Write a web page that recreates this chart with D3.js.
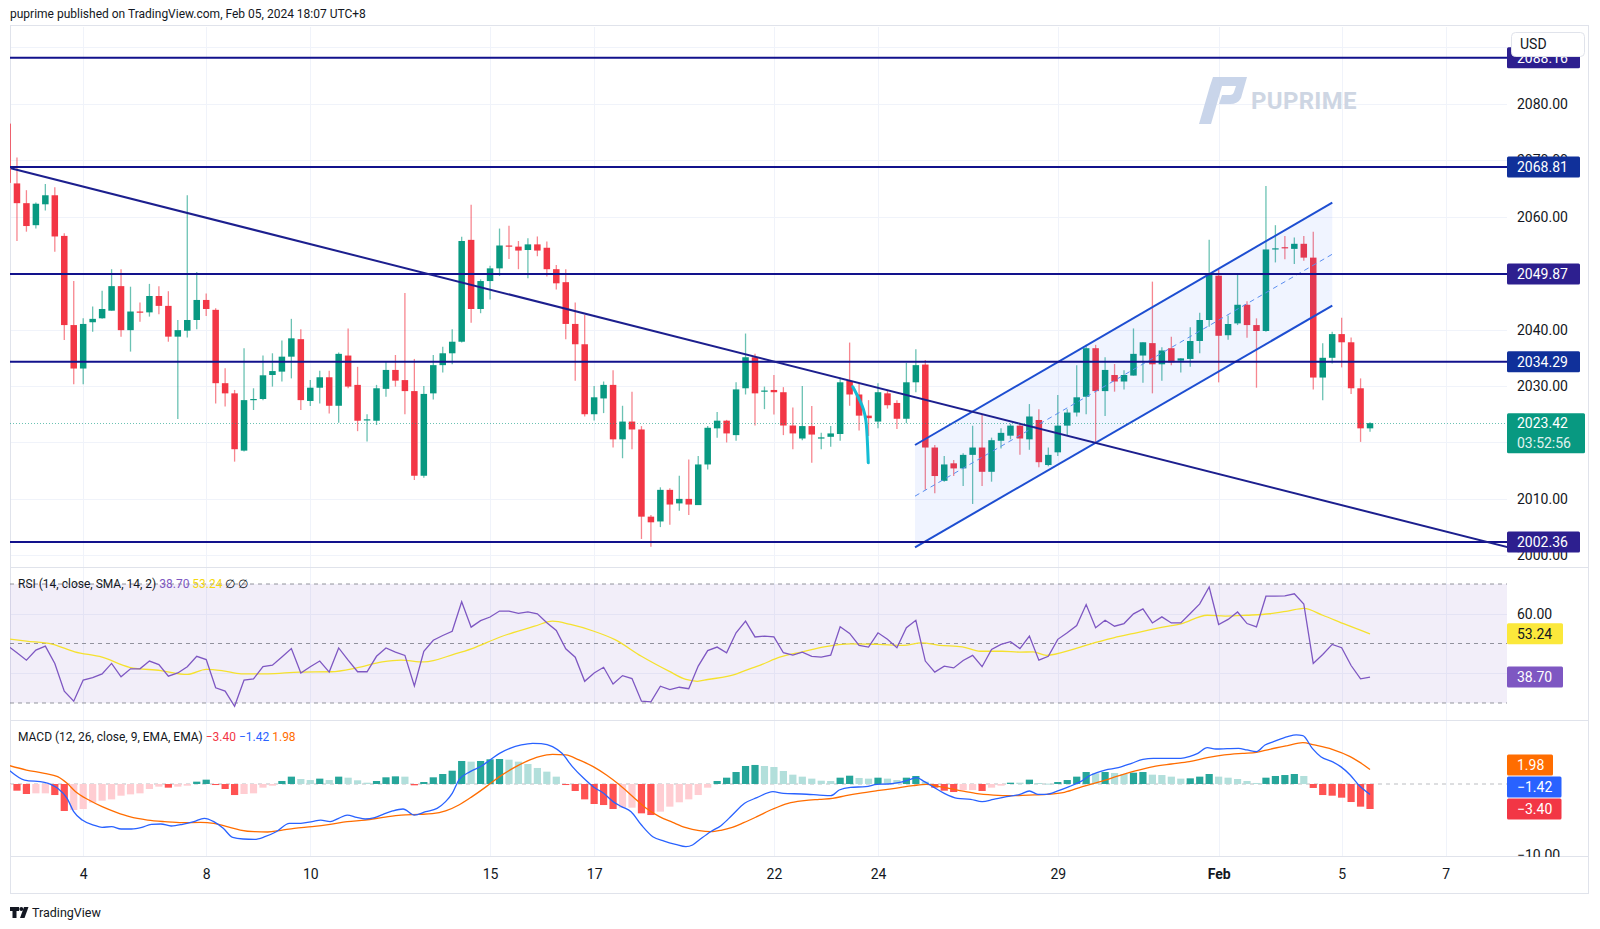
<!DOCTYPE html>
<html><head><meta charset="utf-8">
<script src="https://cdn.jsdelivr.net/npm/d3@7"></script>
<style>body{margin:0;background:#fff;}svg{display:block;font-family:Roboto,"Noto Sans",sans-serif;}</style>
</head><body><svg id="c" width="1600" height="929"></svg>
<script>
// ---------- DATA ----------
const opens = [2076.5,2065.9,2062.4,2058.5,2062.2,2063.8,2056.6,2040.8,2033.1,2041.3,2042.0,2043.35,2047.7,2039.9,2043.2,2043.05,2045.95,2044.2,2038.75,2039.8,2041.7,2045.25,2043.5,2030.5,2028.7,2018.55,2027.6,2027.7,2031.95,2032.55,2035.2,2038.3,2027.35,2029.7,2031.55,2026.5,2035.4,2030.2,2023.95,2023.85,2029.5,2032.85,2031.05,2029.1,2014.1,2028.7,2033.7,2035.8,2037.85,2055.9,2043.65,2048.6,2050.85,2054.9,2054.7,2054.1,2055.1,2054.5,2050.7,2048.4,2041.0,2037.4,2025.0,2027.8,2030.2,2020.55,2023.7,2022.3,2006.85,2006.0,2011.6,2009.2,2010.0,2008.9,2016.1,2022.5,2023.86,2021.3,2029.6,2035.1,2029.05,2029.3,2028.9,2023.0,2020.7,2022.9,2020.85,2021.0,2021.5,2030.9,2028.5,2024.75,2023.7,2028.7,2027.0,2024.2,2030.66,2033.8,2019.1,2013.2,2016.3,2015.4,2017.8,2019.1,2014.8,2020.3,2021.2,2022.98,2020.55,2023.98,2016.0,2018.25,2022.98,2025.3,2028.1,2036.7,2029.1,2031.95,2030.8,2031.85,2035.4,2037.6,2033.85,2036.7,2034.5,2034.8,2037.98,2041.7,2049.55,2039.0,2041.1,2044.4,2040.8,2039.75,2054.3,2054.6,2054.3,2055.2,2052.75,2031.5,2035.0,2039.2,2037.75,2029.6,2022.5];
const highs = [2077.0,2070.5,2064.7,2062.5,2065.8,2065.2,2057.05,2048.6,2042.0,2044.1,2046.9,2050.7,2050.7,2047.6,2044.8,2048.1,2047.7,2046.8,2041.7,2063.8,2050.2,2046.4,2043.8,2033.15,2029.3,2036.7,2029.6,2035.4,2035.8,2038.05,2041.9,2040.05,2031.05,2032.7,2032.7,2035.95,2040.2,2033.4,2025.0,2030.2,2034.3,2035.5,2046.5,2034.8,2030.0,2035.5,2036.95,2040.05,2056.46,2062.1,2048.9,2051.3,2057.9,2058.4,2055.7,2056.2,2056.5,2055.6,2051.45,2050.7,2044.8,2042.6,2030.0,2030.8,2032.8,2026.5,2029.0,2022.9,2007.15,2012.05,2011.9,2014.1,2017.0,2017.6,2022.9,2025.4,2024.0,2030.66,2039.3,2035.7,2029.9,2031.95,2029.8,2026.2,2030.0,2026.45,2021.7,2022.9,2031.5,2037.7,2030.35,2027.5,2030.5,2029.3,2027.5,2034.1,2036.5,2034.6,2019.55,2017.6,2016.9,2018.1,2022.96,2024.98,2020.85,2022.5,2023.3,2023.3,2026.8,2025.9,2019.1,2028.4,2025.9,2033.7,2037.3,2037.3,2035.1,2033.9,2032.8,2040.2,2037.75,2048.5,2036.85,2038.75,2034.9,2040.4,2043.0,2055.9,2050.7,2042.5,2049.7,2045.0,2041.99,2065.45,2058.5,2056.6,2056.3,2056.6,2057.35,2037.6,2039.6,2042.1,2038.6,2031.35,2023.6];
const lows = [2065.5,2055.7,2057.35,2057.9,2061.1,2053.8,2038.15,2030.3,2030.3,2039.6,2041.9,2043.35,2038.75,2036.1,2041.4,2042.3,2042.7,2037.85,2024.15,2038.6,2040.05,2042.4,2026.9,2026.35,2016.6,2018.4,2025.75,2027.5,2029.9,2030.8,2031.35,2025.75,2026.45,2026.9,2025.15,2023.5,2029.6,2022.0,2020.15,2023.1,2028.1,2029.9,2025.0,2013.35,2013.75,2027.6,2032.4,2033.85,2037.7,2041.2,2042.9,2045.35,2049.5,2052.5,2050.7,2049.1,2053.0,2049.4,2047.1,2038.3,2030.95,2024.6,2023.9,2025.2,2019.1,2017.2,2018.8,2002.9,2001.5,2005.0,2005.4,2007.9,2007.15,2008.9,2015.2,2020.85,2020.0,2020.3,2028.5,2023.0,2025.9,2024.95,2021.3,2018.8,2020.4,2016.4,2018.8,2019.25,2020.3,2026.5,2022.1,2021.15,2022.5,2026.0,2022.4,2023.4,2028.9,2011.6,2011.0,2013.05,2014.05,2012.3,2009.1,2012.3,2013.05,2018.95,2020.55,2017.8,2018.7,2015.6,2015.8,2017.6,2021.3,2024.6,2024.98,2020.1,2024.7,2029.0,2029.4,2031.85,2030.6,2028.7,2030.95,2033.7,2032.4,2033.4,2035.8,2040.5,2030.65,2038.2,2040.8,2038.55,2029.7,2039.6,2051.9,2052.45,2051.6,2052.2,2029.4,2027.5,2034.0,2033.3,2028.6,2020.1,2021.9];
const closes = [2066.0,2062.4,2058.35,2062.3,2063.8,2056.5,2040.8,2033.1,2041.0,2041.9,2043.65,2047.7,2039.9,2043.2,2043.05,2045.95,2044.2,2038.75,2039.9,2041.7,2045.25,2043.65,2030.5,2028.7,2018.8,2027.5,2027.7,2031.9,2032.65,2035.2,2038.45,2027.5,2029.7,2031.55,2026.5,2035.7,2029.9,2023.85,2024.1,2029.6,2032.85,2030.95,2029.1,2014.1,2028.6,2033.7,2035.8,2037.85,2055.7,2043.65,2048.6,2050.85,2054.9,2054.8,2054.0,2055.1,2054.0,2050.7,2048.2,2041.0,2037.4,2025.0,2028.0,2030.2,2020.55,2023.7,2022.3,2006.85,2005.85,2011.6,2009.0,2010.0,2009.0,2016.1,2022.6,2023.86,2021.6,2029.4,2035.1,2028.7,2029.2,2028.9,2023.0,2021.6,2022.9,2021.4,2020.9,2021.6,2030.66,2028.5,2024.75,2024.3,2028.9,2026.6,2024.2,2030.66,2033.7,2019.1,2014.05,2016.1,2015.4,2017.8,2019.1,2014.8,2020.4,2021.7,2022.98,2020.7,2024.6,2016.5,2017.8,2022.98,2025.3,2028.0,2036.7,2029.1,2032.85,2030.8,2031.95,2035.7,2037.75,2033.85,2036.3,2034.2,2034.9,2037.98,2041.7,2049.7,2038.9,2040.99,2044.4,2040.8,2039.75,2054.2,2054.4,2054.4,2055.2,2052.75,2031.5,2035.0,2039.2,2037.75,2029.6,2022.5,2023.42];

const dayTickIdx = [8,21,32,51,62,81,92,111,128,141,152];
const dayTickLabels = ["4","8","10","15","17","22","24","29","Feb","5","7"];
const priceGrid = [2000,2010,2020,2030,2040,2050,2060,2070,2080,2090];
const priceTickLabels = [2000,2010,2030,2040,2060,2070,2080];
const rsiTickLabels = [60];
const macdTickLabels = [-10];
const levelValues = [2088.16,2068.81,2049.87,2034.29,2002.36];
const levelBoxColors = ["#2d1f8f","#10309a","#2d1f8f","#10309a","#2d1f8f"];
const trendPts = [[0.34,2068.58],[147.2,2006.26]];
const chanUpper = [[95.91,2019.55],[140.01,2062.48]];
const chanLower = [[95.91,2001.42],[140.01,2044.23]];
const cyanPath = [[89.33,2029.88],[90.44,2026.33],[90.8,2023.97],[90.97,2016.4]];
const lastPrice = 2023.42;
const countdown = "03:52:56";

const rsi = [49.3,46.9,44.4,47.8,49.1,43.3,34.0,30.6,37.7,38.5,39.8,43.3,38.8,41.5,41.5,44.1,42.9,39.0,40.1,42.2,45.7,44.6,35.1,34.0,28.9,37.7,38.1,42.2,42.7,45.5,48.3,40.1,42.2,44.1,40.4,48.5,44.4,40.5,40.5,45.7,48.5,47.1,46.0,35.7,47.4,51.1,52.7,54.1,64.0,55.5,57.7,58.9,60.9,60.9,60.1,60.6,60.0,56.95,54.4,48.2,45.4,37.3,40.1,42.0,36.4,39.2,38.2,30.6,30.4,35.65,34.5,35.3,34.8,42.4,47.6,48.8,46.9,53.6,57.5,52.2,52.5,52.2,46.9,46.1,47.1,45.7,45.4,46.1,55.6,53.4,49.4,48.8,53.6,51.4,48.6,55.3,57.8,44.1,40.4,42.4,41.8,44.3,46.0,42.2,48.0,49.7,50.6,48.3,52.5,44.4,45.7,51.4,53.6,56.05,63.1,55.3,57.8,55.8,56.7,59.95,61.65,56.9,58.96,56.9,56.9,60.1,63.3,69.0,56.4,58.1,60.6,56.7,55.6,65.9,65.9,66.0,66.7,63.3,43.3,46.3,49.7,48.6,42.6,38.1,38.7];
const rsiSma = [[0,51.6],[2,50.8],[4.7,49.8],[7.1,47.2],[10,45.4],[12.9,42],[16.2,40.9],[19,39.6],[21,41.3],[22.8,40.8],[24.7,39.8],[27.5,39.8],[30.9,40.4],[34.2,40.5],[36.9,41.8],[39.6,43.8],[41.6,44.4],[44,43.8],[47.3,46.5],[49.1,48.3],[52,52.1],[55.7,55.8],[57.6,57.5],[59.5,56.4],[61.9,54.2],[64.2,51.3],[67,45.7],[69.9,40.7],[71.7,37.9],[72.9,37.3],[74,37.9],[76.9,39.6],[77.8,40.7],[79.7,42.9],[81.6,45.4],[84,47.2],[86.3,48.9],[89.1,49.9],[92,49.7],[94.7,49.4],[96.6,50.2],[98.5,49.4],[100.9,48.9],[102.8,47.4],[105.1,47.4],[107,47.1],[108.4,47.2],[109.8,46],[112.6,48],[114.5,49.9],[116.9,51.9],[119.3,53.6],[122.1,55.5],[124,56.6],[126.8,59.5],[128.7,59.2],[131,59.5],[133.4,60],[135.3,60.9],[137,61.8],[139,59.5],[141.4,56.4],[144,53.24]];
const macdHist = [-0.6,-0.91,-1.36,-1.27,-1.27,-1.50,-3.67,-3.54,-3.40,-2.54,-2.27,-2.09,-1.59,-1.41,-1.27,-0.68,-0.36,-0.50,-0.36,-0.23,0.32,0.59,-0.14,-0.68,-1.50,-1.36,-1.27,-0.50,-0.23,0.41,1.0,0.68,0.54,0.73,0.54,1.0,0.86,0.50,0.18,0.41,0.91,1.04,1.0,-0.18,0.27,0.91,1.36,1.81,3.13,3.04,3.13,3.36,3.40,3.31,3.04,2.72,2.18,1.68,1.0,-0.14,-0.95,-2.09,-2.72,-2.86,-3.40,-3.22,-3.22,-3.99,-4.22,-3.76,-3.08,-2.49,-2.09,-1.50,-0.50,0.41,0.86,1.63,2.45,2.59,2.45,2.31,1.77,1.27,1.0,0.73,0.45,0.41,0.86,1.13,0.82,0.73,0.86,0.73,0.54,0.86,1.09,0.32,-0.50,-0.91,-1.09,-0.82,-0.82,-0.95,-0.50,-0.23,0.18,0.18,0.59,0.14,0.05,0.27,0.54,1.0,1.63,1.45,1.63,1.50,1.36,1.54,1.63,1.27,1.22,1.0,0.73,0.77,1.0,1.36,1.0,0.86,0.68,0.41,0.14,0.86,1.09,1.22,1.36,1.09,-0.54,-1.50,-1.59,-1.86,-2.45,-3.08,-3.40];
const macdLine = [[0.24,1.81],[1.8,0.54],[3.9,0.23],[5.3,-0.59],[6.3,-1.95],[7.0,-3.76],[7.9,-4.90],[9.1,-5.58],[10,-5.9],[11,-5.8],[12,-6.12],[13.1,-6.12],[14.2,-5.9],[15.2,-5.49],[16.2,-5.44],[17.3,-5.71],[18.5,-5.49],[19.7,-5.12],[20.8,-4.67],[21.8,-5.12],[22.8,-6.03],[23.8,-7.26],[24.9,-7.48],[26.1,-7.53],[27.2,-7.17],[28.4,-6.49],[29.8,-5.35],[31,-5.35],[32.2,-5.12],[33.1,-4.9],[34.1,-5.12],[35,-4.67],[35.9,-4.22],[36.9,-4.54],[37.8,-4.76],[38.8,-4.58],[39.7,-4.13],[40.7,-3.67],[41.8,-3.4],[43,-4.22],[44.2,-3.76],[45.4,-3.31],[46.3,-2.4],[47,-1.27],[47.7,0.54],[48.9,1.68],[50.1,2.45],[51,3.27],[52,4.17],[53.1,4.85],[54.3,5.31],[55.5,5.53],[56.4,5.49],[57.6,5.08],[58.6,4.17],[59.7,2.36],[60.9,0.77],[61.9,-0.36],[63,-1.27],[64,-2.4],[64.9,-3.08],[65.9,-3.76],[67,-5.58],[68.2,-7.17],[69.4,-7.76],[70.6,-8.21],[71.7,-8.53],[72.4,-8.3],[73.1,-7.62],[74.3,-6.49],[75.4,-5.67],[76.6,-4.22],[77.9,-2.63],[79.2,-1.86],[80.9,-1.04],[82,-1.27],[83.9,-1.36],[85.8,-1.5],[87,-1.59],[87.9,-0.82],[89.1,-0.45],[90.7,-0.36],[91.9,-0.05],[93.1,0],[94.3,0.23],[95.2,0.54],[96.1,0.86],[96.9,0.32],[97.8,-0.36],[99,-1.27],[100.4,-1.95],[101.8,-2.09],[103,-2.4],[104.2,-2.09],[105.6,-1.72],[107,-1.41],[108,-0.95],[108.9,-1.41],[109.8,-1.41],[111,-0.95],[112.2,-0.36],[113.4,0.32],[114.5,1.22],[116,1.9],[117.4,2.22],[118.8,2.81],[120,3.36],[121.1,3.49],[122.5,3.49],[124,3.49],[124.9,3.72],[125.8,4.17],[126.8,4.94],[127.7,4.76],[128.9,4.81],[130.1,4.85],[131,4.63],[132,4.4],[132.9,5.31],[133.8,5.76],[135.3,6.44],[136.2,6.67],[136.9,6.58],[137.9,4.85],[138.8,3.72],[140,3.04],[140.9,2.36],[141.9,1.22],[142.8,-0.14],[144,-1.42]];
const macdSignal = [[0.24,2.49],[2,1.9],[3.9,1.45],[5.3,1.0],[6.3,0.09],[7.2,-1.04],[8.6,-2.18],[10,-3.08],[11.5,-3.85],[12.9,-4.44],[14.8,-4.9],[16.6,-5.12],[18.5,-5.26],[20.4,-5.22],[21.8,-5.35],[23.2,-5.8],[24.6,-6.26],[26.1,-6.49],[27.5,-6.53],[28.9,-6.3],[30.3,-6.03],[32.2,-5.8],[34.1,-5.49],[35.9,-5.12],[37.8,-4.9],[39.7,-4.54],[41.6,-4.22],[43.5,-4.13],[44.9,-4.04],[46.3,-3.67],[47.7,-2.86],[49.1,-1.72],[50.6,-0.36],[52,1.0],[53.4,2.13],[54.8,3.04],[56.2,3.72],[57.6,4.04],[59,3.95],[60.4,3.27],[61.9,2.36],[63.3,1.22],[64.7,-0.14],[66.1,-1.72],[67.5,-3.31],[68.9,-4.44],[70.3,-5.22],[71.7,-5.94],[73.1,-6.35],[74.3,-6.49],[75.4,-6.3],[76.6,-5.9],[77.8,-5.26],[79.2,-4.44],[80.9,-3.4],[82.5,-2.63],[84.2,-2.27],[85.8,-2.09],[87.2,-1.95],[88.6,-1.59],[90,-1.27],[91.9,-0.91],[93.8,-0.59],[95.7,-0.23],[97.1,-0.05],[98.5,-0.36],[100.4,-0.82],[102.3,-1.27],[104.2,-1.5],[106,-1.59],[107.9,-1.5],[109.8,-1.41],[111.7,-1.13],[113.6,-0.36],[115.5,0.32],[117.4,1.09],[119.2,1.77],[121.1,2.36],[123,2.72],[124.9,3.04],[126.8,3.58],[128.6,3.95],[130.5,4.17],[132,4.31],[133.4,4.72],[135.3,5.22],[136.9,5.62],[138.1,5.31],[140,4.72],[141.9,3.72],[142.8,3.04],[144,1.98]];
const rsiLast = 38.70, smaLast = 53.24, histLast = -3.40, macdLast = -1.42, sigLast = 1.98;

// ---------- LAYOUT ----------
const L = 10, R = 1507, FR = 1589;
const mainT = 27, mainB = 567, rsiT = 567, rsiB = 720, macdT = 720, macdB = 856, axB = 894;
const svg = d3.select('#c');
const fmt2 = d3.format('.2f');
const sfmt = v => (v < 0 ? '\u2212' + fmt2(-v) : fmt2(v));

const x = d3.scaleLinear().domain([0, 144]).range([7.5, 7.5 + 144 * 9.462]);
const yP = d3.scaleLinear().domain([2068.81, 2002.36]).range([167, 542]);
const yR = d3.scaleLinear().domain([70, 30]).range([584, 703]);
const yM = d3.scaleLinear().domain([0, -3.40]).range([784, 809]);

const defs = svg.append('defs');
function clip(id, x0, y0, x1, y1) {
  defs.append('clipPath').attr('id', id).append('rect').attr('x', x0).attr('y', y0).attr('width', x1 - x0).attr('height', y1 - y0);
}
clip('cm', L, mainT, R, mainB); clip('cr', L, rsiT, R, rsiB); clip('cq', L, macdT, R, macdB);
clip('cqa', R, macdT, FR, macdB + 1);

svg.append('rect').attr('width', 1600).attr('height', 929).attr('fill', '#fff');

// header
svg.append('text').attr('x', 10).attr('y', 18).attr('font-size', 12).attr('fill', '#131722')
  .text('puprime published on TradingView.com, Feb 05, 2024 18:07 UTC+8');

// grids
const grid = svg.append('g').attr('stroke', '#f0f3fa').attr('stroke-width', 1);
dayTickIdx.forEach(i => { const xx = Math.round(x(i)) + 0.5; if (xx < R) grid.append('line').attr('x1', xx).attr('x2', xx).attr('y1', mainT).attr('y2', macdB); });
priceGrid.forEach(v => grid.append('line').attr('x1', L).attr('x2', R).attr('y1', Math.round(yP(v)) + 0.5).attr('y2', Math.round(yP(v)) + 0.5));
[60, 40].forEach(v => grid.append('line').attr('x1', L).attr('x2', R).attr('y1', Math.round(yR(v)) + 0.5).attr('y2', Math.round(yR(v)) + 0.5));

// frame / separators
const fr = svg.append('g').attr('stroke', '#e0e3eb').attr('stroke-width', 1).attr('fill', 'none');
fr.append('rect').attr('x', L + 0.5).attr('y', mainT - 1.5).attr('width', FR - L - 1).attr('height', axB - mainT + 1);
[mainB, rsiB, macdB].forEach(y => fr.append('line').attr('x1', L).attr('x2', FR).attr('y1', y + 0.5).attr('y2', y + 0.5));

// watermark
const wm = svg.append('g').attr('opacity', 0.9);
wm.append('path').attr('fill', '#c4d1e8')
  .attr('d', 'M1199,124 L1211,124 L1222,86 L1210,86 Z M1213,77 L1247,77 L1241,98 Q1238,104 1230,104 L1219,104 L1222,95 L1230,95 Q1233,95 1234,92 L1236,86 L1210,86 Z');
wm.append('text').attr('x', 1251).attr('y', 109).attr('font-size', 24).attr('font-weight', 700)
  .attr('fill', '#c9d2e1').attr('letter-spacing', 0.3).text('PUPRIME');

// ---------- MAIN PANE ----------
const gm = svg.append('g').attr('clip-path', 'url(#cm)');
const UP = '#089981', DN = '#f23645';
const bw = 6.5;
opens.forEach((o, i) => {
  const c = closes[i], col = c >= o ? UP : DN, cx = x(i);
  gm.append('line').attr('x1', cx).attr('x2', cx).attr('y1', yP(highs[i])).attr('y2', yP(lows[i]))
    .attr('stroke', col).attr('stroke-opacity', 0.6).attr('stroke-width', 1.3);
  const yt = yP(Math.max(o, c)), yb = yP(Math.min(o, c));
  gm.append('rect').attr('x', cx - bw / 2).attr('y', yt).attr('width', bw).attr('height', Math.max(1.2, yb - yt)).attr('fill', col);
});

// channel
const chanPoly = [chanUpper[0], chanUpper[1], chanLower[1], chanLower[0]];
gm.append('path').attr('d', d3.line().x(d => x(d[0])).y(d => yP(d[1]))(chanPoly) + 'Z')
  .attr('fill', '#2962ff').attr('fill-opacity', 0.07);
const mid = [[chanUpper[0][0], (chanUpper[0][1] + chanLower[0][1]) / 2], [chanUpper[1][0], (chanUpper[1][1] + chanLower[1][1]) / 2]];
gm.append('line').attr('x1', x(mid[0][0])).attr('y1', yP(mid[0][1])).attr('x2', x(mid[1][0])).attr('y2', yP(mid[1][1]))
  .attr('stroke', '#5b8ef0').attr('stroke-width', 1).attr('stroke-dasharray', '5,4');
[chanUpper, chanLower].forEach(p => gm.append('line').attr('x1', x(p[0][0])).attr('y1', yP(p[0][1])).attr('x2', x(p[1][0])).attr('y2', yP(p[1][1]))
  .attr('stroke', '#1d4ed1').attr('stroke-width', 2));

// levels
levelValues.forEach(v => gm.append('line').attr('x1', L).attr('x2', R).attr('y1', yP(v)).attr('y2', yP(v)).attr('stroke', '#12128c').attr('stroke-width', 2));
// trend line (extended right)
const slope = (trendPts[1][1] - trendPts[0][1]) / (trendPts[1][0] - trendPts[0][0]);
const iEnd = x.invert(R + 2);
gm.append('line').attr('x1', x(trendPts[0][0])).attr('y1', yP(trendPts[0][1]))
  .attr('x2', x(iEnd)).attr('y2', yP(trendPts[0][1] + slope * (iEnd - trendPts[0][0])))
  .attr('stroke', '#1c1f8e').attr('stroke-width', 2);
// cyan path
gm.append('path').attr('d', d3.line().x(d => x(d[0])).y(d => yP(d[1])).curve(d3.curveBasis)(cyanPath))
  .attr('fill', 'none').attr('stroke', '#14bcd4').attr('stroke-width', 3).attr('stroke-linecap', 'round');
// last price dotted
gm.append('line').attr('x1', L).attr('x2', R).attr('y1', Math.round(yP(lastPrice)) + 0.5).attr('y2', Math.round(yP(lastPrice)) + 0.5)
  .attr('stroke', UP).attr('stroke-opacity', 0.6).attr('stroke-dasharray', '1,2');

// price axis
const pax = svg.append('g').attr('transform', `translate(${R},0)`)
  .call(d3.axisRight(yP).tickValues(priceTickLabels).tickFormat(fmt2).tickSize(0).tickPadding(10));
pax.select('.domain').remove();
pax.selectAll('text').attr('font-size', 14).attr('fill', '#131722').attr('font-family', 'Roboto,sans-serif');

function box(y, txt, fill, tcol, w, h) {
  h = h || 21;
  svg.append('rect').attr('x', R).attr('y', y - h / 2).attr('width', w).attr('height', h).attr('fill', fill).attr('rx', 1.5);
  svg.append('text').attr('x', R + 10).attr('y', y + 5).attr('font-size', 14).attr('fill', tcol).text(txt);
}
levelValues.forEach((v, k) => box(yP(v), fmt2(v), levelBoxColors[k], '#fff', 73));
// last price box
const lp = yP(lastPrice);
svg.append('rect').attr('x', R).attr('y', lp - 10).attr('width', 78).attr('height', 40).attr('fill', UP).attr('rx', 1.5);
svg.append('text').attr('x', R + 10).attr('y', lp + 5).attr('font-size', 14).attr('fill', '#fff').text(fmt2(lastPrice));
svg.append('text').attr('x', R + 10).attr('y', lp + 25).attr('font-size', 14).attr('fill', '#e0f2ef').text(countdown);

// USD box
svg.append('rect').attr('x', 1511.5).attr('y', 32.5).attr('width', 73).attr('height', 24).attr('rx', 4)
  .attr('fill', '#fff').attr('stroke', '#e0e3eb');
svg.append('text').attr('x', 1520).attr('y', 49).attr('font-size', 14).attr('fill', '#131722').text('USD');

// ---------- RSI PANE ----------
const gr = svg.append('g').attr('clip-path', 'url(#cr)');
gr.append('rect').attr('x', L).attr('y', yR(70)).attr('width', R - L).attr('height', yR(30) - yR(70)).attr('fill', '#7e57c2').attr('fill-opacity', 0.1);
[70, 50, 30].forEach(v => gr.append('line').attr('x1', L).attr('x2', R).attr('y1', yR(v)).attr('y2', yR(v))
  .attr('stroke', '#787b86').attr('stroke-opacity', 0.8).attr('stroke-dasharray', '4,4'));
gr.append('path').attr('d', d3.line().x(d => x(d[0])).y(d => yR(d[1])).curve(d3.curveMonotoneX)(rsiSma))
  .attr('fill', 'none').attr('stroke', '#f5e12e').attr('stroke-width', 1.3);
gr.append('path').attr('d', d3.line().x((d, i) => x(i)).y(d => yR(d))(rsi))
  .attr('fill', 'none').attr('stroke', '#7e57c2').attr('stroke-width', 1.3);
const rl = svg.append('text').attr('x', 18).attr('y', yR(70) + 4).attr('font-size', 12);
rl.append('tspan').attr('fill', '#131722').text('RSI (14, close, SMA, 14, 2) ');
rl.append('tspan').attr('fill', '#7e57c2').text(fmt2(rsiLast) + ' ');
rl.append('tspan').attr('fill', '#f5d80f').text(fmt2(smaLast) + ' ');
rl.append('tspan').attr('fill', '#131722').text('\u2205 \u2205');
const rax = svg.append('g').attr('transform', `translate(${R},0)`)
  .call(d3.axisRight(yR).tickValues(rsiTickLabels).tickFormat(fmt2).tickSize(0).tickPadding(10));
rax.select('.domain').remove();
rax.selectAll('text').attr('font-size', 14).attr('fill', '#131722').attr('font-family', 'Roboto,sans-serif');
box(yR(smaLast), fmt2(smaLast), '#fbe83b', '#131722', 56);
box(yR(rsiLast), fmt2(rsiLast), '#7e57c2', '#fff', 56);

// ---------- MACD PANE ----------
const gq = svg.append('g').attr('clip-path', 'url(#cq)');
gq.append('line').attr('x1', L).attr('x2', R).attr('y1', yM(0)).attr('y2', yM(0)).attr('stroke', '#787b86').attr('stroke-opacity', 0.5).attr('stroke-dasharray', '4,4');
macdHist.forEach((v, i) => {
  const prev = i > 0 ? macdHist[i - 1] : v;
  const col = v >= 0 ? (v > prev ? '#26a69a' : '#b2dfdb') : (v < prev ? '#ff5252' : '#ffcdd2');
  const y0 = yM(Math.max(v, 0)), y1 = yM(Math.min(v, 0));
  gq.append('rect').attr('x', x(i) - 3.6).attr('y', y0).attr('width', 7.2).attr('height', Math.max(1, y1 - y0)).attr('fill', col);
});
gq.append('path').attr('d', d3.line().x(d => x(d[0])).y(d => yM(d[1])).curve(d3.curveMonotoneX)(macdSignal))
  .attr('fill', 'none').attr('stroke', '#ff6d00').attr('stroke-width', 1.3);
gq.append('path').attr('d', d3.line().x(d => x(d[0])).y(d => yM(d[1])).curve(d3.curveMonotoneX)(macdLine))
  .attr('fill', 'none').attr('stroke', '#2962ff').attr('stroke-width', 1.3);
const ml = svg.append('text').attr('x', 18).attr('y', macdT + 21).attr('font-size', 12);
ml.append('tspan').attr('fill', '#131722').text('MACD (12, 26, close, 9, EMA, EMA) ');
ml.append('tspan').attr('fill', '#f23645').text(sfmt(histLast) + ' ');
ml.append('tspan').attr('fill', '#2962ff').text(sfmt(macdLast) + ' ');
ml.append('tspan').attr('fill', '#ff6d00').text(sfmt(sigLast));
const qwrap = svg.append('g').attr('clip-path', 'url(#cqa)');
const qax = qwrap.append('g').attr('transform', `translate(${R},-3)`)
  .call(d3.axisRight(yM).tickValues(macdTickLabels).tickFormat(sfmt).tickSize(0).tickPadding(10));
qax.select('.domain').remove();
qax.selectAll('text').attr('font-size', 14).attr('fill', '#131722').attr('font-family', 'Roboto,sans-serif');
// stacked value boxes
const mb = [{v: histLast, c: '#f23645'}, {v: macdLast, c: '#2962ff'}, {v: sigLast, c: '#ff6d00'}];
let lim = Infinity;
mb.forEach(b => { const yy = Math.min(yM(b.v), lim); lim = yy - 22; box(yy, sfmt(b.v), b.c, '#fff', sfmt(b.v).length * 8.5 + 12); });

// ---------- TIME AXIS ----------
const tax = svg.append('g').attr('transform', `translate(0,${macdB})`)
  .call(d3.axisBottom(x).tickValues(dayTickIdx).tickFormat((d, k) => dayTickLabels[k]).tickSize(0).tickPadding(13));
tax.select('.domain').remove();
tax.selectAll('text').attr('font-size', 14).attr('fill', '#131722').attr('font-family', 'Roboto,sans-serif')
  .attr('font-weight', (d, k) => dayTickLabels[k] === 'Feb' ? 700 : 400);

// footer logo
const lg = svg.append('g').attr('fill', '#131722');
lg.append('path').attr('d', 'M10,907 L19,907 L19,911 L16.5,911 L16.5,918 L12.5,918 L12.5,911 L10,911 Z');
lg.append('circle').attr('cx', 21.3).attr('cy', 909).attr('r', 2);
lg.append('path').attr('d', 'M24,907 L28.5,907 L24.5,918 L20,918 Z');
svg.append('text').attr('x', 32).attr('y', 917).attr('font-size', 12.5).attr('fill', '#131722').text('TradingView');
</script></body></html>
